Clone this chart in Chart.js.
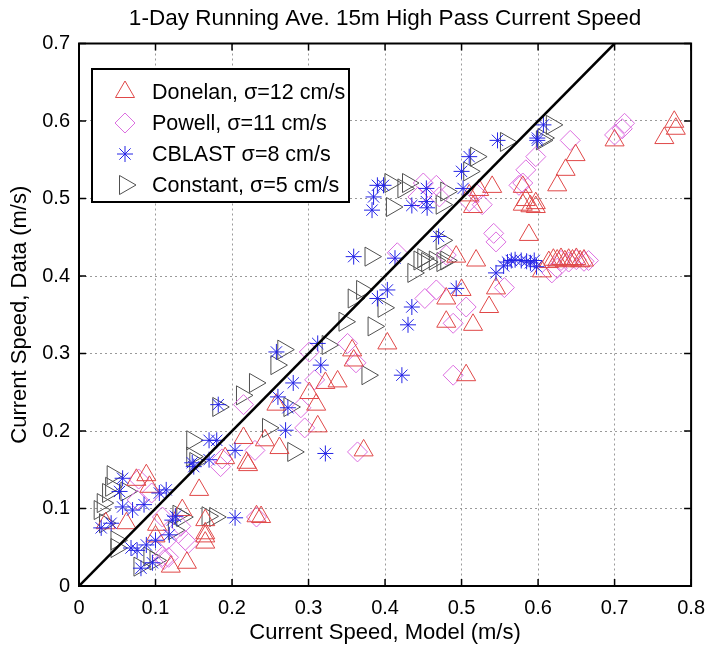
<!DOCTYPE html>
<html><head><meta charset="utf-8">
<script src="https://cdn.jsdelivr.net/npm/chart.js@4.4.1/dist/chart.umd.min.js"></script>
<style>html,body{margin:0;padding:0;background:#fff}</style>
</head><body><canvas id="c" width="715" height="647"></canvas>
<script>
const titleText = '1-Day Running Ave. 15m High Pass Current Speed';
const xTitle = 'Current Speed, Model (m/s)';
const yTitle = 'Current Speed, Data (m/s)';
const xTickLabels = ['0','0.1','0.2','0.3','0.4','0.5','0.6','0.7','0.8'];
const yTickLabels = ['0','0.1','0.2','0.3','0.4','0.5','0.6','0.7'];
const seriesLabels = ['Donelan, σ=12 cm/s','Powell, σ=11 cm/s','CBLAST σ=8 cm/s','Constant, σ=5 cm/s'];

const lineX = [0, 0.7];
const lineY = [0, 0.7];

const donelanX = [0.088,0.075,0.092,0.062,0.102,0.100,0.120,0.035,0.157,0.165,0.165,0.165,0.191,0.219,0.215,0.243,0.238,0.141,0.135,0.232,
 0.403,0.359,0.357,0.338,0.322,0.301,0.310,0.258,0.312,0.262,0.372,0.221,0.165,
 0.519,0.493,0.545,0.536,0.480,0.480,0.515,0.506,0.500,0.605,0.510,0.540,0.523,0.515,0.580,0.597,0.588,
 0.614,0.620,0.625,0.630,0.635,0.640,0.645,0.650,0.655,0.660,
 0.778,0.780,0.765,0.700,0.649,0.636,0.625,0.580,0.584,0.597,0.590];
const donelanY = [0.143,0.137,0.128,0.081,0.079,0.064,0.025,0.081,0.124,0.085,0.064,0.056,0.165,0.159,0.191,0.188,0.089,0.030,0.098,0.090,
 0.313,0.291,0.304,0.264,0.262,0.249,0.234,0.234,0.206,0.178,0.175,0.156,0.068,
 0.420,0.425,0.384,0.360,0.371,0.341,0.337,0.272,0.382,0.406,0.504,0.515,0.511,0.489,0.492,0.489,0.453,
 0.418,0.421,0.420,0.422,0.419,0.421,0.420,0.422,0.419,0.420,
 0.599,0.590,0.578,0.575,0.556,0.537,0.517,0.515,0.498,0.494,0.490];

const powellX = [0.076,0.115,0.111,0.109,0.230,0.185,0.232,0.139,0.133,0.109,0.078,0.143,0.117,0.187,0.095,
 0.301,0.351,0.362,0.308,0.290,0.215,0.295,0.364,
 0.489,0.556,0.506,0.489,0.467,0.452,0.618,0.416,0.480,0.545,0.450,0.443,0.467,0.471,0.510,0.519,0.527,0.542,0.575,0.584,0.597,0.580,
 0.630,0.640,0.650,0.660,0.666,0.625,
 0.713,0.710,0.700,0.642];
const powellY = [0.111,0.059,0.034,0.089,0.175,0.154,0.089,0.059,0.077,0.038,0.138,0.055,0.037,0.164,0.120,
 0.302,0.313,0.288,0.266,0.230,0.234,0.204,0.173,
 0.272,0.385,0.360,0.339,0.382,0.371,0.404,0.430,0.427,0.444,0.520,0.502,0.517,0.502,0.496,0.507,0.492,0.455,0.517,0.537,0.554,0.520,
 0.420,0.418,0.421,0.419,0.420,0.410,
 0.597,0.590,0.582,0.575];

const cblastX = [0.057,0.053,0.057,0.042,0.029,0.070,0.085,0.105,0.068,0.076,0.088,0.100,0.096,0.081,0.170,0.180,0.148,0.170,0.204,0.204,0.114,0.122,0.118,0.126,0.182,0.150,
 0.359,0.403,0.390,0.316,0.280,0.260,0.273,0.258,0.312,0.270,0.322,
 0.545,0.435,0.430,0.422,0.493,0.413,0.390,0.385,0.383,0.398,0.435,0.454,0.454,0.455,0.502,0.500,0.510,0.547,0.599,0.470,0.607,0.599,
 0.555,0.560,0.565,0.570,0.578,0.585,0.590,0.595,0.598];
const cblastY = [0.139,0.122,0.102,0.081,0.075,0.098,0.105,0.120,0.049,0.046,0.053,0.059,0.030,0.023,0.188,0.188,0.159,0.163,0.175,0.088,0.124,0.085,0.066,0.090,0.234,0.154,
 0.425,0.382,0.371,0.285,0.262,0.244,0.230,0.302,0.313,0.201,0.171,
 0.404,0.360,0.337,0.272,0.384,0.423,0.517,0.502,0.485,0.517,0.491,0.496,0.513,0.488,0.513,0.535,0.554,0.575,0.575,0.451,0.595,0.578,
 0.413,0.418,0.420,0.421,0.420,0.419,0.417,0.420,0.412];

const constantX = [0.044,0.042,0.038,0.031,0.027,0.034,0.049,0.049,0.079,0.092,0.062,0.148,0.148,0.178,0.168,0.124,0.135,0.130,0.100,0.152,
 0.381,0.370,0.359,0.398,0.385,0.347,0.325,0.267,0.258,0.230,0.213,0.182,0.275,0.247,0.377,0.280,
 0.445,0.455,0.465,0.475,0.480,0.437,0.407,0.424,0.409,0.480,0.474,0.519,0.510,0.558,0.605,0.450,0.474,0.618,0.607,0.430];
const constantY = [0.143,0.128,0.120,0.107,0.098,0.081,0.059,0.049,0.025,0.038,0.122,0.188,0.167,0.089,0.090,0.072,0.089,0.092,0.033,0.160,
 0.425,0.382,0.371,0.359,0.335,0.341,0.311,0.305,0.285,0.262,0.246,0.231,0.231,0.204,0.272,0.173,
 0.420,0.418,0.420,0.418,0.420,0.404,0.520,0.513,0.489,0.509,0.492,0.554,0.535,0.573,0.575,0.423,0.446,0.595,0.578,0.520];

const pts = (xs, ys) => xs.map((v, i) => ({x: v, y: ys[i]}));
const FONT = "'Liberation Sans', Arial, Helvetica, sans-serif";
Chart.defaults.font.family = FONT;
Chart.defaults.color = '#000';

const styles = [
  {color: '#e04848', style: 'triangle', rot: 0, r: 11},
  {color: '#dc6ee0', style: 'rectRot', rot: 0, r: 10},
  {color: '#2424e6', style: 'star', rot: 0, r: 8},
  {color: '#505050', style: 'triangle', rot: 90, r: 11}
];

function mk(i, data, order) {
  const s = styles[i];
  return {label: seriesLabels[i], data, order, pointStyle: s.style, rotation: s.rot,
    pointRadius: s.r, pointHoverRadius: s.r, pointBorderColor: s.color, pointBackgroundColor: 'rgba(0,0,0,0)',
    pointBorderWidth: 1, borderColor: s.color, backgroundColor: 'rgba(0,0,0,0)', showLine: false};
}

function drawMarker(ctx, s, x, y) {
  ctx.save();
  ctx.strokeStyle = s.color; ctx.lineWidth = 1;
  ctx.beginPath();
  const r = s.r;
  if (s.style === 'triangle') {
    let a = s.rot * Math.PI / 180;
    for (let k = 0; k < 3; k++) {
      const px = x + Math.sin(a) * r, py = y - Math.cos(a) * r;
      k ? ctx.lineTo(px, py) : ctx.moveTo(px, py);
      a += 2 * Math.PI / 3;
    }
    ctx.closePath();
  } else if (s.style === 'rectRot') {
    ctx.moveTo(x, y - r); ctx.lineTo(x + r, y); ctx.lineTo(x, y + r); ctx.lineTo(x - r, y); ctx.closePath();
  } else {
    for (let k = 0; k < 4; k++) {
      const a = k * Math.PI / 4;
      ctx.moveTo(x - Math.cos(a) * r, y - Math.sin(a) * r);
      ctx.lineTo(x + Math.cos(a) * r, y + Math.sin(a) * r);
    }
  }
  ctx.stroke();
  ctx.restore();
}

const framePlugin = {
  id: 'frame',
  afterDraw(chart) {
    const {ctx, chartArea: a, scales: {x, y}} = chart;
    ctx.save();
    ctx.strokeStyle = '#000';
    ctx.lineWidth = 1.5;
    ctx.beginPath();
    x.ticks.forEach((t, i) => {
      const px = x.getPixelForTick(i);
      ctx.moveTo(px, a.bottom); ctx.lineTo(px, a.bottom - 7);
      ctx.moveTo(px, a.top); ctx.lineTo(px, a.top + 7);
    });
    y.ticks.forEach((t, i) => {
      const py = y.getPixelForTick(i);
      ctx.moveTo(a.left, py); ctx.lineTo(a.left + 7, py);
      ctx.moveTo(a.right, py); ctx.lineTo(a.right - 7, py);
    });
    ctx.stroke();
    ctx.lineWidth = 2;
    ctx.strokeRect(a.left, a.top, a.right - a.left, a.bottom - a.top);
    // legend
    const bx = a.left + 13, by = a.top + 25.5, bw = 257, bh = 133;
    ctx.fillStyle = '#fff';
    ctx.fillRect(bx, by, bw, bh);
    ctx.lineWidth = 2;
    ctx.strokeRect(bx, by, bw, bh);
    ctx.font = '21.5px ' + FONT;
    ctx.fillStyle = '#000';
    ctx.textBaseline = 'middle';
    ctx.textAlign = 'left';
    seriesLabels.forEach((lab, i) => {
      const ly = by + 23 + i * 31;
      drawMarker(ctx, styles[i], bx + 33, ly);
      ctx.fillText(lab, bx + 60, ly + 1);
    });
    ctx.restore();
  }
};

new Chart(document.getElementById('c'), {
  type: 'scatter',
  data: {
    datasets: [
      {label: '1:1', data: pts(lineX, lineY), showLine: true, pointRadius: 0, borderColor: '#000', borderWidth: 2.5, order: 0},
      mk(0, pts(donelanX, donelanY), 2),
      mk(1, pts(powellX, powellY), 3),
      mk(2, pts(cblastX, cblastY), 1),
      mk(3, pts(constantX, constantY), 4)
    ]
  },
  options: {
    responsive: false,
    animation: false,
    devicePixelRatio: 1,
    layout: {padding: {left: 0, right: 18, top: 0, bottom: 0}},
    plugins: {
      legend: {display: false},
      tooltip: {enabled: false},
      title: {display: true, fullSize: false, text: titleText, font: {size: 22.5, weight: 'normal'}, padding: {top: 5, bottom: 11.5}}
    },
    scales: {
      x: {
        type: 'linear', min: 0, max: 0.8,
        ticks: {stepSize: 0.1, padding: 10, font: {size: 20}, callback: (v, i) => xTickLabels[i], maxRotation: 0},
        grid: {color: '#9a9a9a', lineWidth: 1, drawTicks: false},
        border: {display: true, color: '#000', width: 2, dash: [2, 3]},
        title: {display: true, text: xTitle, font: {size: 22}, padding: {top: 0, bottom: 1}},
        afterFit: s => { s.height = 61; }
      },
      y: {
        type: 'linear', min: 0, max: 0.7,
        ticks: {stepSize: 0.1, padding: 9, font: {size: 20}, callback: (v, i) => yTickLabels[i]},
        grid: {color: '#9a9a9a', lineWidth: 1, drawTicks: false},
        border: {display: true, color: '#000', width: 2, dash: [2, 3]},
        title: {display: true, text: yTitle, font: {size: 22}, padding: {top: 7, bottom: 0}},
        afterFit: s => { s.width = 79; }
      }
    }
  },
  plugins: [framePlugin]
});
</script></body></html>
